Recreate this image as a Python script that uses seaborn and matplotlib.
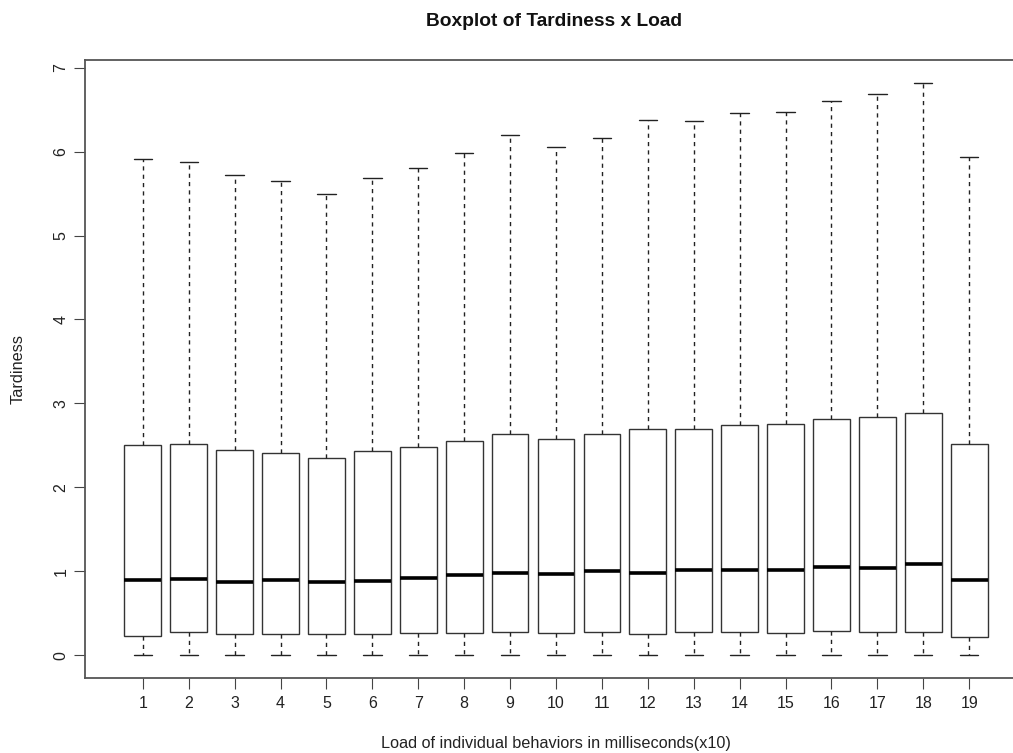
import numpy as np
import pandas as pd
import matplotlib
matplotlib.use("Agg")
import matplotlib.pyplot as plt
import seaborn as sns

# Values (per load level)
loads = list(range(1, 20))
whisker_low = [0.0] * 19
q1 = [0.23, 0.27, 0.25, 0.25, 0.25, 0.25, 0.265, 0.265, 0.27, 0.26,
      0.27, 0.25, 0.275, 0.275, 0.265, 0.29, 0.275, 0.28, 0.22]
median = [0.90, 0.91, 0.87, 0.89, 0.876, 0.88, 0.92, 0.95, 0.975, 0.97,
          1.00, 0.98, 1.015, 1.01, 1.015, 1.05, 1.04, 1.09, 0.90]
q3 = [2.51, 2.52, 2.44, 2.41, 2.35, 2.43, 2.48, 2.55, 2.64, 2.58,
      2.63, 2.70, 2.70, 2.74, 2.75, 2.815, 2.84, 2.89, 2.52]
whisker_high = [5.91, 5.88, 5.72, 5.65, 5.50, 5.69, 5.81, 5.98, 6.20, 6.06,
                6.16, 6.38, 6.36, 6.46, 6.47, 6.60, 6.69, 6.82, 5.94]

rows = []
for i, ld in enumerate(loads):
    for v in (whisker_low[i], q1[i], median[i], q3[i], whisker_high[i]):
        rows.append({"Load": str(ld), "Tardiness": v})
df = pd.DataFrame(rows)

sns.set_style("white")
plt.rcParams["font.family"] = ["Liberation Sans", "DejaVu Sans"]

W, H = 1013, 753
fig = plt.figure(figsize=(W / 100, H / 100), dpi=100)
left_px, right_px, top_px, bottom_px = 85, 1027, 60, 678
ax = fig.add_axes([left_px / W, 1 - bottom_px / H,
                   (right_px - left_px) / W, (bottom_px - top_px) / H])

edge = "#333333"
sns.boxplot(data=df, x="Load", y="Tardiness", order=[str(l) for l in loads],
            whis=(0, 100), width=0.8, color="white", linecolor=edge,
            linewidth=1.0, fliersize=0, ax=ax,
            medianprops={"linewidth": 2.6, "color": "black"},
            whiskerprops={"linestyle": (0, (3, 3)), "color": "#222222", "linewidth": 1.0},
            capprops={"color": "#222222", "linewidth": 1.0})

ax.set_xlim(-1.26, 19.26)
ax.set_ylim(-0.273, 7.093)
ax.set_yticks(range(0, 8))
ax.set_yticklabels([str(v) for v in range(0, 8)], rotation=90, va="center")
ax.set_xticks(range(19))
ax.set_xticklabels([str(l) for l in loads])
ax.tick_params(axis="both", which="major", bottom=True, left=True,
               direction="out", length=8, width=0.8,
               color="#444444", labelsize=11.5, labelcolor="#222222", pad=5)
ax.tick_params(axis="y", pad=4)
for s in ax.spines.values():
    s.set_visible(True)
    s.set_color("#555555")
    s.set_linewidth(1.3)

ax.set_xlabel("Load of individual behaviors in milliseconds(x10)", fontsize=11.7,
              color="#222222", labelpad=18)
ax.set_ylabel("Tardiness", fontsize=11.7, color="#222222", labelpad=20)
fig.text(554 / W, 1 - 21 / H, "Boxplot of Tardiness x Load", ha="center",
         va="center", fontsize=13.8, fontweight="bold", color="#111111")

fig.savefig("out.png", dpi=100, facecolor="white")
